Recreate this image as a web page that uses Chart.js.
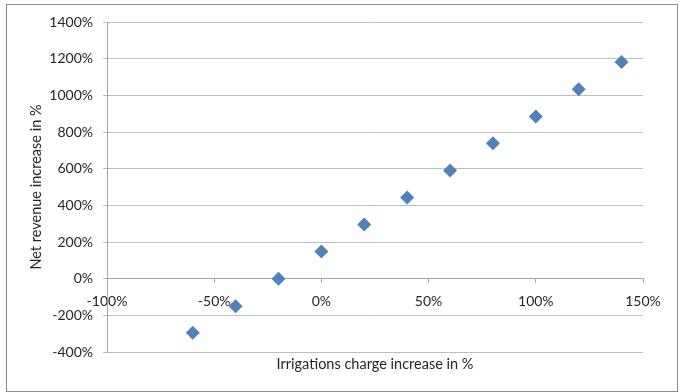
<!DOCTYPE html>
<html>
<head>
<meta charset="utf-8">
<script src="https://cdn.jsdelivr.net/npm/chart.js@4"></script>
<style>
  html, body { margin: 0; padding: 0; background: #fff; }
  #wrap { position: relative; width: 681px; height: 392px; }
  #frame { position: absolute; left: 6px; top: 4px; width: 672px; height: 388px;
           box-sizing: border-box; border: 1px solid #8c8c8c; pointer-events: none; }
</style>
</head>
<body>
<div id="wrap">
  <canvas id="chart" width="681" height="392"></canvas>
  <div id="frame"></div>
</div>
<script>
// charge increase (%) vs net revenue increase (%)
const chargeIncrease = [-60, -40, -20, 0, 20, 40, 60, 80, 100, 120, 140];
const revenueIncrease = [-295, -150, 0, 148, 295, 443, 590, 738, 885, 1033, 1182];

const xTicks = [-100, -50, 0, 50, 100, 150];
const yTicks = [-400, -200, 0, 200, 400, 600, 800, 1000, 1200, 1400];

const tickFont = { family: 'Lato', size: 14 };
const titleFont = { family: 'Lato', size: 14.5 };
const textColor = '#262626';

const points = chargeIncrease.map((x, i) => ({ x: x, y: revenueIncrease[i] }));

const config = {
  type: 'scatter',
  data: {
    datasets: [{
      label: 'Net revenue',
      data: points,
      pointStyle: 'rectRot',
      pointRadius: 7,
      pointHoverRadius: 7,
      backgroundColor: '#4f81bd',
      borderColor: '#4f81bd',
      borderWidth: 0
    }]
  },
  options: {
    responsive: false,
    animation: false,
    layout: { padding: { left: 25, top: 22, right: 38, bottom: 16 } },
    plugins: { legend: { display: false }, tooltip: { enabled: false } },
    scales: {
      x: {
        type: 'linear',
        position: { y: 0 },
        min: xTicks[0],
        max: xTicks[xTicks.length - 1],
        afterBuildTicks: s => { s.ticks = xTicks.map(v => ({ value: v })); },
        grid: { drawOnChartArea: false, drawTicks: true, tickLength: 4, color: '#a6a6a6' },
        border: { color: '#a6a6a6', width: 1 },
        ticks: { font: tickFont, color: textColor, padding: 10, maxRotation: 0, autoSkip: false,
                 callback: v => v + '%' }
      },
      xTitle: {
        type: 'linear',
        axis: 'x',
        position: 'bottom',
        afterFit: s => { s.height = 24; },
        grid: { display: false },
        border: { display: false },
        ticks: { display: false },
        title: { display: true, text: 'Irrigations charge increase in %', font: titleFont, color: textColor,
                 padding: { top: 4, bottom: 3 } }
      },
      y: {
        type: 'linear',
        position: 'left',
        min: yTicks[0],
        max: yTicks[yTicks.length - 1],
        afterBuildTicks: s => { s.ticks = yTicks.map(v => ({ value: v })); },
        afterFit: s => { s.width = 82; },
        grid: { color: '#bdbdbd', tickLength: 4, lineWidth: 1 },
        border: { color: '#a6a6a6', width: 1 },
        ticks: { font: tickFont, color: textColor, padding: 10, callback: v => v + '%' },
        title: { display: true, text: 'Net revenue increase in %', font: titleFont, color: textColor,
                 padding: { top: 3, bottom: 4 } }
      }
    }
  }
};

new Chart(document.getElementById('chart'), config);
</script>
</body>
</html>
